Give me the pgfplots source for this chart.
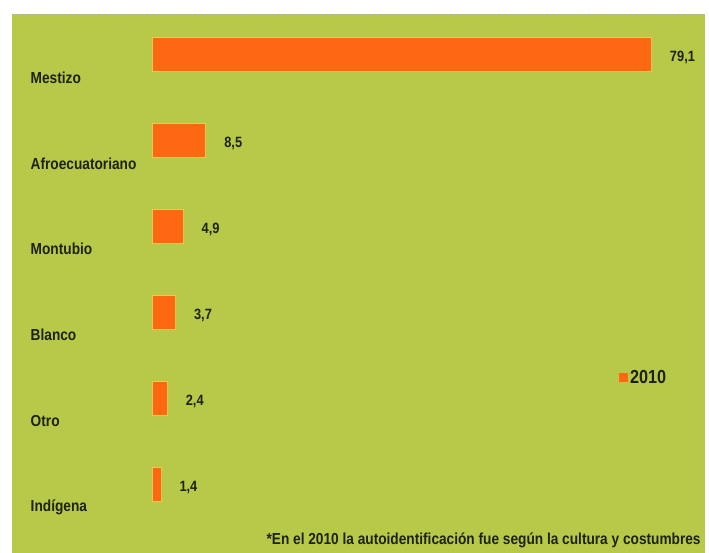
\documentclass[border=0pt]{standalone}
\usepackage{fontspec}
\setmainfont{Liberation Sans}[FakeStretch=0.86]
\usepackage{pgfplots}
\pgfplotsset{compat=1.18}
\definecolor{bggreen}{RGB}{184,200,72}
\definecolor{barorange}{RGB}{255,104,18}
\definecolor{baredge}{RGB}{240,200,70}
\definecolor{txt}{RGB}{30,34,18}
\begin{document}
\begin{tikzpicture}[x=1pt,y=1pt]
\fill[white] (0,0) rectangle (709,556);
\fill[bggreen] (12,0) rectangle (709,542);
\draw[gray!60, dashed, line width=0.6pt] (12,541.5) -- (709,541.5);
\begin{axis}[
  at={(153pt,17.16pt)}, anchor=south west,
  scale only axis, width=556pt, height=535.7pt,
  xmin=0, xmax=87.56, ymin=-0.6, ymax=5.6,
  xbar, bar width=34pt, clip=false,
  axis line style={draw=none}, tick style={draw=none},
  xtick=\empty,
  ytick={0,1,2,3,4,5},
  yticklabels={Indígena,Otro,Blanco,Montubio,Afroecuatoriano,Mestizo},
  yticklabel style={anchor=west, inner sep=0pt, xshift=-118pt, yshift=-23pt, font=\fontsize{16}{18}\selectfont\bfseries, text=txt},
  nodes near coords,
  nodes near coords style={anchor=west, xshift=15pt, yshift=-3pt, font=\fontsize{15}{17}\selectfont\bfseries, text=txt, /pgf/number format/.cd, use comma, fixed, fixed zerofill, precision=1, assume math mode=true},
  legend style={at={(0.845,0.2965)}, anchor=west, draw=none, fill=none, font=\fontsize{19}{21}\selectfont\bfseries, text=txt, inner sep=0pt},
  legend image code/.code={\fill[barorange] (0pt,-4pt) rectangle (8pt,4pt);},
]
\addplot[fill=barorange, draw=baredge, line width=0.8pt] coordinates {
  (1.4,0) (2.4,1) (3.7,2) (4.9,3) (8.5,4) (79.1,5)
};
\addlegendentry{2010}
\end{axis}
\node[anchor=base east, inner sep=0pt, text=txt, font=\fontsize{16}{18}\selectfont\bfseries] at (705,8) {*En el 2010 la autoidentificación fue según la cultura y costumbres};
\end{tikzpicture}
\end{document}
